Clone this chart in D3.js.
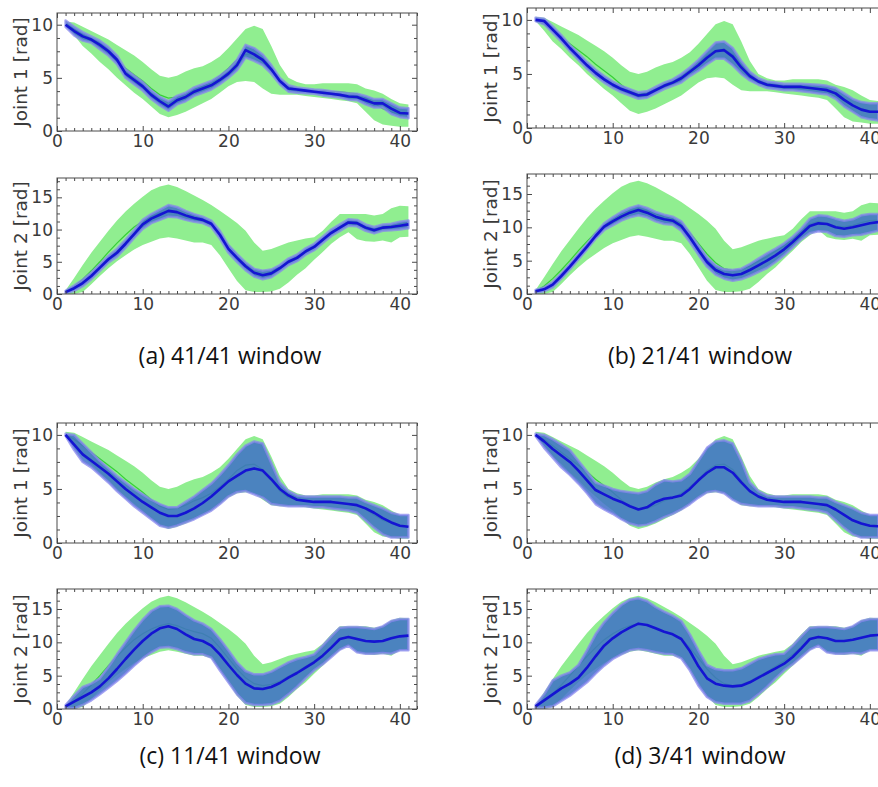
<!DOCTYPE html>
<html><head><meta charset="utf-8">
<script src="https://cdn.jsdelivr.net/npm/d3@7"></script>
<style>body{margin:0;background:#fff}svg{display:block}</style>
</head><body>
<svg id="c" width="878" height="787"></svg>
<script>
// ---------- data ----------
const steps = d3.range(1, 42); // 1..41
const xTicks = [0, 10, 20, 30, 40];
const j1Ticks = [0, 5, 10];
const j2Ticks = [0, 5, 10, 15];
const captions = ["(a) 41/41 window", "(b) 21/41 window", "(c) 11/41 window", "(d) 3/41 window"];

// demonstrations (green)
const demoJ1Mean = [10.0,9.6,9.0,8.4,7.8,7.2,6.6,5.9,5.3,4.7,4.0,3.4,3.1,3.2,3.5,3.9,4.2,4.6,5.2,5.9,6.7,7.2,7.3,6.8,5.8,4.8,4.2,4.0,3.9,3.8,3.8,3.7,3.7,3.6,3.5,3.1,2.6,2.1,1.8,1.6,1.5];
const demoJ1Upper = [10.3,10.2,9.8,9.4,9.0,8.6,8.1,7.6,7.1,6.5,5.8,5.2,5.0,5.2,5.6,5.9,6.1,6.5,7.0,7.8,8.7,9.6,9.9,9.6,8.0,6.2,5.0,4.6,4.4,4.4,4.5,4.5,4.5,4.5,4.4,4.0,3.8,3.5,3.0,2.6,2.5];
const demoJ1Lower = [9.9,9.0,8.0,7.3,6.5,5.8,5.0,4.3,3.6,3.0,2.3,1.6,1.3,1.5,1.8,2.2,2.6,3.0,3.6,4.2,4.6,4.7,4.6,4.0,3.5,3.4,3.4,3.4,3.3,3.2,3.1,3.0,2.9,2.8,2.6,1.8,1.0,0.6,0.5,0.4,0.4];
const demoJ2Mean = [0.4,1.2,2.3,3.6,5.0,6.5,7.9,9.2,10.4,11.3,12.0,12.5,12.8,12.5,12.0,11.6,11.3,10.6,9.2,7.6,6.0,4.7,3.8,3.5,3.7,4.2,4.9,5.6,6.4,7.2,8.2,9.4,10.5,10.9,10.6,10.2,10.1,10.3,10.7,11.0,11.1];
const demoJ2Upper = [0.6,2.5,4.5,6.4,8.1,9.8,11.4,12.8,14.0,15.1,16.1,16.7,17.0,16.6,16.0,15.3,14.6,13.8,12.9,12.0,11.0,9.8,8.0,6.7,7.0,7.5,8.0,8.3,8.6,8.8,9.8,11.2,12.4,12.4,12.4,12.4,12.2,12.4,13.3,13.7,13.6];
const demoJ2Lower = [0.0,0.0,0.3,1.5,2.8,4.0,5.1,6.0,6.9,7.6,8.1,8.6,8.8,8.6,8.3,8.0,8.0,7.6,6.0,4.0,2.0,0.6,0.3,0.3,0.4,0.8,1.8,3.0,4.0,5.3,6.5,7.8,8.8,9.6,8.5,8.2,8.1,8.3,8.0,8.8,8.9];

// (a) 41/41 window
const aJ1Mean = [10.0,9.4,8.9,8.6,8.1,7.5,6.7,5.4,4.8,4.2,3.4,2.8,2.3,2.9,3.2,3.7,4.0,4.3,4.8,5.4,6.2,7.6,7.2,6.7,5.8,4.7,4.0,3.9,3.8,3.7,3.6,3.5,3.4,3.25,3.2,2.9,2.6,2.6,2.1,1.7,1.65];
const aJ1Upper = [10.4,9.8,9.3,8.9,8.5,7.9,7.1,5.8,5.2,4.6,3.8,3.2,2.8,3.3,3.6,4.1,4.4,4.7,5.2,5.8,6.7,8.1,7.8,7.2,6.2,5.0,4.3,4.1,4.0,3.9,3.85,3.75,3.65,3.55,3.5,3.3,3.0,3.0,2.6,2.2,2.15];
const aJ1Lower = [9.8,9.0,8.5,8.3,7.7,7.1,6.3,5.0,4.4,3.8,3.0,2.4,1.9,2.5,2.8,3.3,3.6,3.9,4.4,5.0,5.7,6.9,6.6,6.2,5.4,4.4,3.7,3.6,3.55,3.5,3.35,3.25,3.15,2.95,2.9,2.5,2.2,2.2,1.6,1.3,1.2];
const aJ2Mean = [0.3,0.9,1.7,2.8,4.1,5.4,6.4,7.8,9.3,10.8,11.7,12.3,12.9,12.7,12.2,11.8,11.5,10.9,9.2,7.0,5.6,4.3,3.3,2.9,3.2,4.0,5.0,5.6,6.6,7.3,8.4,9.5,10.3,11.1,11.0,10.3,9.9,10.3,10.4,10.6,10.8];
const aJ2Upper = [0.5,1.3,2.2,3.3,4.6,5.9,7.0,8.4,9.9,11.5,12.4,13.1,13.8,13.5,12.9,12.4,12.0,11.4,9.8,7.6,6.2,4.9,3.9,3.6,3.8,4.5,5.5,6.1,7.1,7.8,8.9,10.0,10.8,11.6,11.5,10.8,10.4,10.8,10.9,11.2,11.4];
const aJ2Lower = [0.1,0.5,1.2,2.3,3.6,4.9,5.8,7.2,8.7,10.1,11.0,11.5,12.0,11.9,11.5,11.2,11.0,10.4,8.6,6.4,5.0,3.7,2.7,2.3,2.6,3.5,4.5,5.1,6.1,6.8,7.9,9.0,9.8,10.6,10.5,9.8,9.4,9.8,9.9,10.0,10.2];

// (b) 21/41 window
const bJ1Mean = [10.0,9.9,9.1,8.3,7.4,6.6,5.8,5.1,4.5,4.0,3.6,3.3,3.0,3.1,3.5,3.9,4.2,4.6,5.2,5.8,6.5,7.1,7.2,6.6,5.6,4.8,4.3,4.0,3.9,3.8,3.8,3.8,3.7,3.6,3.5,3.2,2.6,2.1,1.7,1.5,1.5];
const bJ1Upper = [10.2,10.1,9.4,8.6,7.7,6.9,6.1,5.4,4.8,4.3,3.9,3.6,3.3,3.4,3.8,4.2,4.5,5.0,5.6,6.3,7.1,7.9,8.0,7.4,6.2,5.2,4.6,4.3,4.2,4.1,4.1,4.1,4.05,4.0,3.9,3.7,3.2,2.7,2.4,2.3,2.3];
const bJ1Lower = [9.9,9.6,8.8,8.0,7.1,6.3,5.5,4.8,4.2,3.7,3.3,3.0,2.7,2.8,3.2,3.6,3.9,4.2,4.8,5.3,5.9,6.4,6.4,5.8,5.0,4.4,4.0,3.7,3.6,3.5,3.5,3.4,3.3,3.2,3.1,2.7,2.0,1.5,1.0,0.8,0.7];
const bJ2Mean = [0.4,0.7,1.4,2.7,4.1,5.6,7.1,8.7,10.1,10.9,11.6,12.2,12.6,12.2,11.6,11.2,11.0,10.2,8.5,6.6,4.8,3.6,3.0,2.8,3.0,3.6,4.3,5.0,5.8,6.7,7.8,9.0,10.2,10.6,10.5,10.0,9.8,10.0,10.3,10.6,10.8];
const bJ2Upper = [0.6,1.0,1.8,3.1,4.5,6.0,7.5,9.1,10.6,11.5,12.3,12.9,13.3,12.9,12.3,11.9,11.6,10.9,9.2,7.3,5.5,4.3,3.7,3.6,3.8,4.5,5.3,6.1,6.8,7.6,8.6,9.8,11.3,11.8,11.7,11.3,11.0,11.2,11.8,12.0,12.0];
const bJ2Lower = [0.2,0.4,1.0,2.3,3.7,5.2,6.7,8.3,9.6,10.3,11.0,11.5,11.8,11.5,10.9,10.5,10.4,9.5,7.8,5.9,4.1,2.9,2.3,2.0,2.2,2.7,3.3,3.9,4.8,5.8,7.0,8.2,9.1,9.4,9.3,8.7,8.6,8.8,8.9,9.2,9.5];

// (c) 11/41 window
const cJ1Mean = [10.0,9.1,8.2,7.6,7.0,6.4,5.7,5.0,4.4,3.8,3.3,2.8,2.5,2.5,2.8,3.2,3.7,4.3,5.0,5.7,6.2,6.7,6.9,6.7,5.9,5.0,4.4,4.0,3.9,3.8,3.8,3.8,3.7,3.6,3.5,3.2,2.8,2.3,1.9,1.6,1.5];
const cJ1Upper = [10.1,10.0,9.2,8.4,7.6,6.9,6.2,5.6,5.0,4.5,4.0,3.6,3.3,3.3,3.8,4.3,4.9,5.5,6.3,7.2,8.2,9.0,9.4,9.2,7.4,5.6,4.8,4.4,4.3,4.3,4.3,4.3,4.3,4.2,4.2,3.8,3.5,3.2,2.8,2.6,2.6];
const cJ1Lower = [9.9,8.6,7.5,7.0,6.3,5.6,4.8,4.1,3.4,2.8,2.2,1.6,1.4,1.6,1.9,2.2,2.6,3.0,3.6,4.3,4.7,4.8,4.5,4.2,3.6,3.5,3.4,3.4,3.4,3.3,3.3,3.2,3.1,3.0,2.8,2.1,1.4,0.8,0.5,0.5,0.5];
const cJ2Mean = [0.4,1.1,1.8,2.5,3.4,4.6,6.0,7.5,8.9,10.2,11.3,12.1,12.4,12.0,11.2,10.5,10.2,9.5,8.2,6.6,5.1,3.8,3.1,3.0,3.3,3.9,4.7,5.4,6.2,7.0,8.0,9.2,10.5,10.8,10.5,10.2,10.1,10.2,10.6,10.9,11.0];
const cJ2Upper = [0.6,2.0,3.3,3.8,4.6,6.3,8.2,10.0,11.8,13.4,14.7,15.4,15.5,15.0,14.1,13.3,12.8,12.0,10.5,8.8,7.0,5.7,5.2,5.2,5.6,6.3,7.0,7.5,7.8,8.2,9.5,10.9,12.2,12.3,12.3,12.2,12.0,12.4,13.2,13.5,13.5];
const cJ2Lower = [0.2,0.1,0.6,1.3,2.2,3.2,4.2,5.3,6.5,7.6,8.5,9.2,9.3,9.0,8.5,8.2,8.2,7.7,5.8,4.0,2.2,0.9,0.6,0.6,0.7,1.2,2.2,3.3,4.6,5.8,6.7,7.8,8.9,9.5,8.5,8.3,8.3,8.4,8.3,8.8,8.8];

// (d) 3/41 window
const dJ1Mean = [10.0,9.4,8.7,8.1,7.5,6.7,5.8,4.9,4.5,4.1,3.8,3.4,3.1,3.3,3.8,4.1,4.2,4.4,5.0,5.8,6.5,7.0,7.0,6.5,5.6,4.8,4.3,4.0,3.9,3.8,3.8,3.8,3.7,3.6,3.5,3.1,2.6,2.1,1.8,1.6,1.55];
const dJ1Upper = [10.1,10.0,9.6,9.1,8.6,7.6,6.6,5.6,5.3,5.0,4.8,4.7,4.6,4.8,5.4,5.8,5.7,5.8,6.4,7.6,8.8,9.4,9.5,9.2,7.6,5.6,4.8,4.4,4.3,4.3,4.3,4.3,4.3,4.2,4.2,3.8,3.5,3.2,2.8,2.6,2.6];
const dJ1Lower = [9.9,8.8,7.9,7.0,6.3,5.5,4.6,3.6,3.1,2.7,2.2,1.8,1.6,1.7,2.0,2.4,2.7,3.1,3.6,4.2,4.7,4.8,4.6,4.0,3.6,3.5,3.4,3.4,3.4,3.3,3.3,3.2,3.1,3.0,2.8,2.1,1.4,0.8,0.5,0.5,0.5];
const dJ2Mean = [0.4,1.3,2.2,3.1,3.8,4.7,6.2,7.9,9.5,10.6,11.5,12.2,12.8,12.6,12.1,11.6,11.2,10.5,8.7,6.4,4.6,3.8,3.5,3.4,3.5,4.0,4.7,5.4,6.1,6.8,7.8,9.1,10.5,10.8,10.6,10.2,10.2,10.4,10.7,11.0,11.1];
const dJ2Upper = [0.6,2.2,4.3,5.0,5.5,6.6,8.8,11.2,13.0,14.4,15.6,16.4,16.6,16.2,15.3,14.6,14.0,13.2,11.2,8.8,6.6,6.0,5.8,5.8,6.1,6.8,7.5,7.9,8.2,8.3,9.5,10.9,12.2,12.3,12.3,12.2,12.0,12.4,13.2,13.5,13.5];
const dJ2Lower = [0.2,0.2,0.4,1.2,2.0,3.0,4.0,5.3,6.5,7.5,8.2,8.8,9.0,8.8,8.5,8.3,8.2,7.6,5.8,3.5,1.8,1.0,0.8,0.8,0.8,1.2,2.2,3.3,4.6,5.8,6.7,7.8,8.9,9.5,8.5,8.3,8.3,8.4,8.3,8.8,8.8];

// ---------- layout ----------
const svg = d3.select("#c");
const panels = [
  {left:57, top:13, bottom:131, joint:1, mean:aJ1Mean, up:aJ1Upper, lo:aJ1Lower},
  {left:57, top:178, bottom:294, joint:2, mean:aJ2Mean, up:aJ2Upper, lo:aJ2Lower},
  {left:527, top:8, bottom:128, joint:1, mean:bJ1Mean, up:bJ1Upper, lo:bJ1Lower},
  {left:527, top:174, bottom:294, joint:2, mean:bJ2Mean, up:bJ2Upper, lo:bJ2Lower},
  {left:57, top:423, bottom:543, joint:1, mean:cJ1Mean, up:cJ1Upper, lo:cJ1Lower},
  {left:57, top:589, bottom:709, joint:2, mean:cJ2Mean, up:cJ2Upper, lo:cJ2Lower},
  {left:527, top:423, bottom:543, joint:1, mean:dJ1Mean, up:dJ1Upper, lo:dJ1Lower},
  {left:527, top:589, bottom:709, joint:2, mean:dJ2Mean, up:dJ2Upper, lo:dJ2Lower}
];
const W = 360;
const tickFont = "DejaVu Sans, sans-serif";
const axisColor = "#4a4a4a";

panels.forEach(p => {
  const g = svg.append("g");
  const x = d3.scaleLinear().domain([0, 42]).range([p.left, p.left + W]);
  const yMax = p.joint === 1 ? 11.1 : 18;
  const y = d3.scaleLinear().domain([0, yMax]).range([p.bottom, p.top]);
  const demo = p.joint === 1 ? [demoJ1Mean, demoJ1Upper, demoJ1Lower] : [demoJ2Mean, demoJ2Upper, demoJ2Lower];
  const majY = p.joint === 1 ? j1Ticks : j2Ticks;

  const clipId = "clip" + p.left + "_" + p.top;
  svg.append("clipPath").attr("id", clipId).append("rect")
    .attr("x", p.left).attr("y", p.top).attr("width", W).attr("height", p.bottom - p.top);
  const plot = g.append("g").attr("clip-path", `url(#${clipId})`);

  const band = (u, l) => d3.area().x((d, i) => x(steps[i])).y0((d, i) => y(l[i])).y1((d, i) => y(u[i]));
  const line = m => d3.line().x((d, i) => x(steps[i])).y((d, i) => y(m[i]));

  plot.append("path").datum(steps).attr("d", band(demo[1], demo[2])).attr("fill", "#90ee90");
  plot.append("path").datum(steps).attr("d", line(demo[0])).attr("fill", "none").attr("stroke", "#36d036").attr("stroke-width", 1.2);
  plot.append("path").datum(steps).attr("d", band(p.up, p.lo))
    .attr("fill", "#4070c8").attr("fill-opacity", 0.85)
    .attr("stroke", "#8585ee").attr("stroke-opacity", 0.75).attr("stroke-width", 2.5).attr("stroke-linejoin", "round");
  plot.append("path").datum(steps).attr("d", line(p.mean)).attr("fill", "none").attr("stroke", "#1414d2").attr("stroke-width", 2.6).attr("stroke-linejoin", "round");

  // axes (inward ticks on all four sides)
  const minorX = d3.range(0, 43, 1).filter(v => v % 10 !== 0);
  const minorY = d3.range(0, yMax, 1.25).filter(v => !majY.includes(v));
  const style = sel => { sel.select(".domain").remove(); sel.selectAll("line").attr("stroke", axisColor); sel.selectAll("text").attr("fill", "#3a3a3a").style("font-family", tickFont).style("font-size", "17px"); };

  g.append("g").attr("transform", `translate(0,${p.bottom})`).call(d3.axisBottom(x).tickValues(xTicks).tickSize(-5).tickPadding(4)).call(style);
  g.append("g").attr("transform", `translate(0,${p.bottom})`).call(d3.axisBottom(x).tickValues(minorX).tickSize(-3).tickFormat("")).call(style);
  g.append("g").attr("transform", `translate(0,${p.top})`).call(d3.axisTop(x).tickValues(xTicks).tickSize(-5).tickFormat("")).call(style);
  g.append("g").attr("transform", `translate(0,${p.top})`).call(d3.axisTop(x).tickValues(minorX).tickSize(-3).tickFormat("")).call(style);
  g.append("g").attr("transform", `translate(${p.left},0)`).call(d3.axisLeft(y).tickValues(majY).tickSize(-5).tickPadding(4)).call(style);
  g.append("g").attr("transform", `translate(${p.left},0)`).call(d3.axisLeft(y).tickValues(minorY).tickSize(-3).tickFormat("")).call(style);
  g.append("g").attr("transform", `translate(${p.left + W},0)`).call(d3.axisRight(y).tickValues(majY).tickSize(-5).tickFormat("")).call(style);
  g.append("g").attr("transform", `translate(${p.left + W},0)`).call(d3.axisRight(y).tickValues(minorY).tickSize(-3).tickFormat("")).call(style);

  g.append("rect").attr("x", p.left).attr("y", p.top).attr("width", W).attr("height", p.bottom - p.top)
    .attr("fill", "none").attr("stroke", axisColor).attr("stroke-width", 1);

  g.append("text")
    .attr("transform", `translate(${p.left - 30},${(p.top + p.bottom) / 2}) rotate(-90)`)
    .attr("text-anchor", "middle").attr("fill", "#3a3a3a")
    .style("font-family", tickFont).style("font-size", "18.5px")
    .text(`Joint ${p.joint} [rad]`);
});

// captions
const capPos = [[230, 364], [700, 364], [230, 764], [700, 764]];
captions.forEach((t, i) => {
  svg.append("text").attr("x", capPos[i][0]).attr("y", capPos[i][1])
    .attr("text-anchor", "middle").attr("fill", "#111")
    .style("font-family", "'Open Sans', sans-serif").style("font-size", "23px")
    .text(t);
});
</script>
</body></html>
